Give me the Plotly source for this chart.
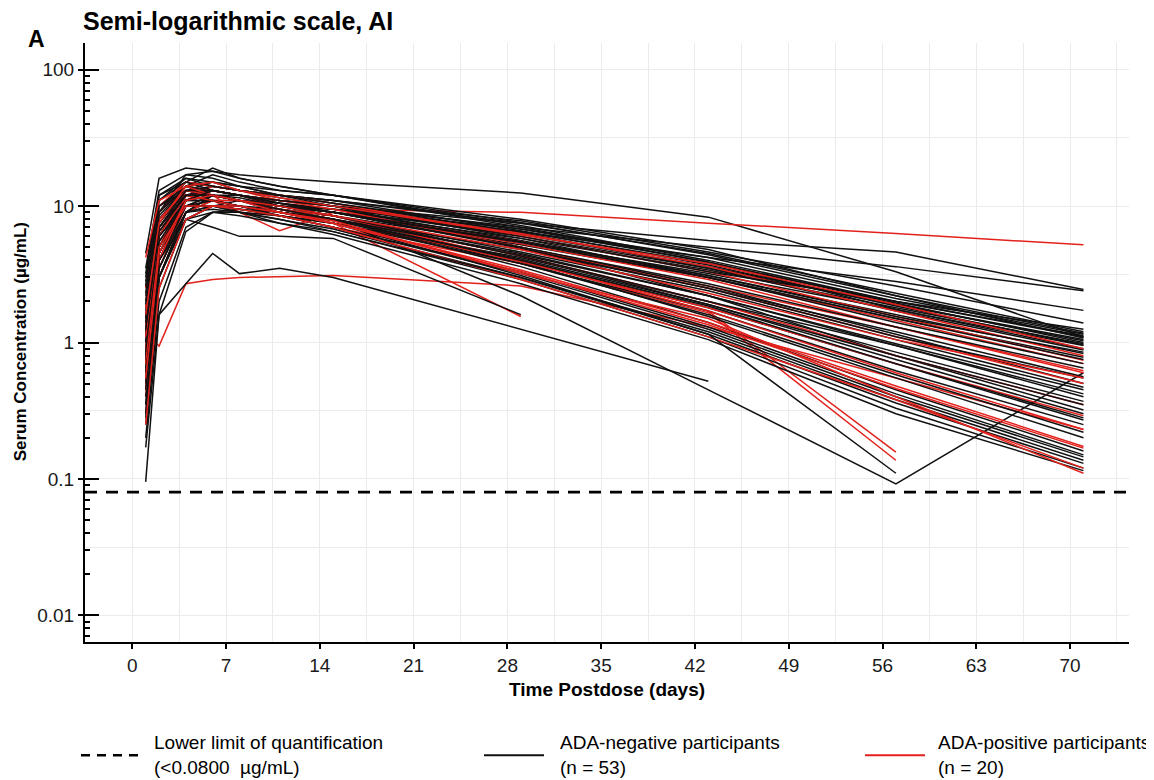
import plotly.graph_objects as go

# ---------------- data ----------------
time_days = [1, 2, 4, 6, 8, 11, 15, 29, 43, 57, 71]
lloq_value = 0.08

# ADA-negative participants (n = 53), serum concentration (ug/mL) at time_days
ada_negative = [
    [1.5, 9, 17, 18, 17, 16, 15, 12.5, 8.3, 3.3, 1.1],
    [2.5, 10, 14, 13, 12, 11, 10, 7.5, 5.6, 4.6, 2.45],
    [1.2, 6, 12, 13, 12, 11, 10, 7.0, 5.0, 3.6, 2.4],
    [0.9, 5, 11, 12, 11, 10, 9, 6.5, 4.2, 2.8, 1.72],
    [1.8, 7.5, 13, 14, 13, 12, 11, 7.8, 4.6, 2.6, 1.39],
    [0.5, 4.5, 12, 14, 13, 12, 11, 7.5, 4.5, 2.3, 1.2],
    [3.0, 12, 16, 15, 14, 13, 12, 8.0, 4.8, 2.2, 1.17],
    [0.7, 5.5, 10, 11, 11, 10, 9.5, 6.8, 4.2, 2.1, 1.15],
    [1.1, 8, 14, 17, 15, 13, 12, 7.2, 4.0, 2.0, 1.12],
    [0.35, 3, 9, 12, 12, 11, 10, 6.5, 3.8, 2.0, 1.1],
    [2.2, 9, 15, 19, 16, 14, 12, 7.6, 4.4, 2.2, 1.08],
    [0.6, 4, 11, 13, 12, 11, 10, 6.2, 3.6, 1.9, 1.05],
    [1.4, 6.5, 12, 12, 11, 10.5, 9.5, 6.0, 3.5, 1.9, 1.03],
    [4.5, 16, 19, 18, 16, 14, 12, 7.0, 3.9, 1.95, 1.0],
    [0.25, 2.5, 8, 10, 11, 10, 9, 5.8, 3.4, 1.8, 0.98],
    [1.0, 6, 13, 15, 14, 12, 11, 6.6, 3.7, 1.85, 0.96],
    [0.45, 4, 10, 12, 11, 10, 9, 5.5, 3.2, 1.75, 0.95],
    [2.8, 11, 15, 14, 13, 12, 10.5, 6.4, 3.5, 1.7, 0.88],
    [0.8, 5, 11, 13, 12, 10.5, 9.5, 5.6, 3.1, 1.6, 0.83],
    [1.6, 7, 12, 11, 10, 9.5, 8.5, 5.2, 3.0, 1.5, 0.78],
    [0.095, 1.6, 6.5, 9, 9.5, 9, 8, 2.2, 0.45, 0.092, 0.6],
    [0.3, 3.5, 9, 11, 10, 9, 8, 4.8, 2.5, 1.2, 0.56],
    [2.0, 9, 14, 13, 12, 10.5, 9, 5.0, 2.6, 1.15, 0.5],
    [0.55, 4, 10, 12, 11, 10, 8.5, 4.6, 2.4, 1.05, 0.47],
    [1.3, 6, 11, 11, 10, 9, 8, 4.4, 2.2, 0.95, 0.4],
    [0.4, 3, 8, 10, 9.5, 8.5, 7.5, 4.2, 2.0, 0.85, 0.37],
    [3.5, 13, 17, 16, 14, 12, 10, 5.0, 2.2, 0.8, 0.32],
    [0.7, 5, 11, 12, 11, 9.5, 8.5, 4.3, 1.9, 0.75, 0.3],
    [1.5, 7, 12, 12, 11, 9.5, 8, 4.0, 1.8, 0.7, 0.27],
    [0.2, 2, 7, 9, 9, 8.5, 7.5, 3.8, 1.7, 0.62, 0.25],
    [2.5, 10, 13, 12, 11, 9.5, 8, 3.8, 1.6, 0.58, 0.22],
    [0.9, 6, 12, 13, 12, 10, 8.5, 3.9, 1.55, 0.55, 0.2],
    [1.7, 8, 13, 12, 11, 9.5, 8, 3.6, 1.4, 0.45, 0.16],
    [0.35, 3, 9, 10, 9.5, 8.5, 7, 3.3, 1.3, 0.42, 0.15],
    [1.2, 6, 11, 11, 10, 8.5, 7, 3.2, 1.25, 0.4, 0.145],
    [0.6, 4.5, 10, 10, 9, 8, 6.8, 3.0, 1.2, 0.38, 0.137],
    [2.3, 10, 14, 12, 11, 9, 7.5, 3.1, 1.15, 0.36, 0.13],
    [0.5, 4, 9, 9.5, 9, 8, 6.5, 2.9, 1.1, 0.33, 0.12],
    [1.0, 6, 10, 10, 9, 7.5, 6.2, 2.7, 1.05, 0.3, 0.115],
    [1.9, 8.5, 14, 15, 13, 12, 10.5, 6.8, 3.9, 1.75, 0.9],
    [0.65, 4.5, 11, 12, 11.5, 10, 9, 5.5, 3.1, 1.55, 0.85],
    [2.6, 11, 16, 14, 13, 11.5, 10, 5.8, 3.0, 1.4, 0.7],
    [0.28, 3, 9, 12, 11, 10, 9, 5.0, 2.7, 1.3, 0.65],
    [1.1, 7, 13, 13, 12, 10.5, 9, 4.9, 2.5, 1.1, 0.55],
    [0.75, 5, 10, 11, 10, 9, 8, 4.5, 2.2, 0.98, 0.45],
    [3.2, 12, 15, 13, 12, 10, 8.5, 4.3, 2.0, 0.95, 0.42],
    [0.45, 3.5, 9, 10, 10, 9, 7.8, 4.1, 1.9, 0.8, 0.35],
    [1.4, 7, 12, 12, 11, 9.5, 8, 4.0, 1.85, 0.7, 0.28],
    [0.85, 5.5, 11, 13, 12, 11, 10, 6.0, 3.3, 2.0, 1.25],
    [1.25, 6.5, 12, 12, 11, 10, 9, 5.4, 3.0, 1.5, 0.75],
    [0.17, 1.6, 2.7, 4.5, 3.2, 3.5, 3.0, 1.25, 0.52, None, None],
    [0.6, 4, 8, 7, 6.0, 6.0, 5.8, 1.6, None, None, None],
    [0.3, 3, 8, 9, 8.5, 7.5, 6.5, 3.0, 1.15, 0.11, None],
]

# ADA-positive participants (n = 20)
ada_positive = [
    [1.0, 6, 12, 12, 11, 10, 9.5, 9.0, 7.5, 6.3, 5.2],
    [1.2, 0.94, 2.7, 2.9, 3.0, 3.05, 3.1, 2.6, 1.3, 0.55, 0.23],
    [0.5, 4, 12, 11, 9, 8.5, 7.5, 1.55, None, None, None],
    [0.8, 5, 13, 12, 9, 6.6, 9, 5.0, 2.6, 1.3, 0.62],
    [0.4, 3.5, 10, 11, 10, 9, 7.5, 4.0, 1.7, 0.157, None],
    [1.5, 7, 12, 11, 10, 8.5, 7, 3.8, 1.65, 0.137, None],
    [2.0, 9, 14, 13, 12, 11, 10, 6.3, 3.6, 1.7, 0.8],
    [0.6, 5, 11, 14, 13, 12, 10.5, 6.0, 3.3, 1.55, 0.74],
    [1.3, 7, 13, 12, 11, 10, 9, 5.5, 3.0, 1.45, 0.7],
    [0.3, 3, 9, 11, 11, 10, 9, 5.3, 2.9, 1.3, 0.6],
    [2.5, 10, 15, 14, 13, 11, 9.5, 5.0, 2.5, 1.1, 0.5],
    [0.9, 6, 12, 12, 11, 9.5, 8.5, 4.3, 2.0, 0.8, 0.35],
    [1.8, 8, 13, 12, 11, 9.5, 8, 3.9, 1.8, 0.7, 0.29],
    [0.45, 4, 11, 13, 12, 10, 8.5, 4.0, 1.7, 0.6, 0.23],
    [1.1, 6.5, 12, 11, 10, 9, 7.5, 3.4, 1.4, 0.48, 0.173],
    [4.2, 11, 14, 12, 11, 9, 7.5, 3.3, 1.35, 0.46, 0.168],
    [0.7, 5, 10, 10, 9.5, 8.5, 7, 2.9, 1.1, 0.38, 0.12],
    [0.25, 2.5, 8, 10, 10, 9, 7.8, 3.2, 1.5, 0.4, 0.11],
    [1.6, 7.5, 14, 15, 13, 11.5, 10, 6.2, 3.8, 1.9, 0.9],
    [0.55, 4.5, 11, 12, 11, 10, 8.5, 4.8, 2.3, 1.05, 0.55],
]

x_tick_vals = [0, 7, 14, 21, 28, 35, 42, 49, 56, 63, 70]
x_minor_grid = [3.5, 10.5, 17.5, 24.5, 31.5, 38.5, 45.5, 52.5, 59.5, 66.5, 73.5]
y_major_vals = [0.01, 0.1, 1, 10, 100]
y_major_text = ["0.01", "0.1", "1", "10", "100"]
y_half_grid = [0.0316228, 0.316228, 3.16228, 31.6228]
y_minor_ticks = [m * 10.0 ** k for k in range(-3, 3) for m in range(2, 10)]

legend_labels = [
    "Lower limit of quantification<br>(&lt;0.0800\u00a0\u00a0µg/mL)",
    "ADA-negative participants<br>(n = 53)",
    "ADA-positive participants<br>(n = 20)",
]

# ---------------- styling ----------------
BLACK = "#111111"
RED = "#E3211C"
GRID = "#EBEBEB"
FONT = "Liberation Sans, Arial, sans-serif"
X_RANGE = [-3.53, 74.4]
Y_RANGE_LOG = [-2.196, 2.196]

# page body has an 8 px margin; size the figure so it fits the 1154x780 window
OFF = 8
FIG_W, FIG_H = 1154 - OFF, 780 - OFF
PLOT_L, PLOT_R, PLOT_T, PLOT_B = 85, 1129, 42.7, 641.7   # target screen pixels
PW, PH = PLOT_R - PLOT_L, PLOT_B - PLOT_T


def px(xs):
    return (xs - PLOT_L) / PW


def py(ys):
    return (PLOT_B - ys) / PH


fig = go.Figure()

# interleave the two groups for drawing order
order = []
ni, pi = 0, 0
while ni < len(ada_negative) or pi < len(ada_positive):
    for _ in range(3):
        if ni < len(ada_negative):
            order.append(("neg", ni)); ni += 1
    if pi < len(ada_positive):
        order.append(("pos", pi)); pi += 1

for grp, idx in order:
    vals = ada_negative[idx] if grp == "neg" else ada_positive[idx]
    fig.add_trace(go.Scatter(
        x=time_days, y=vals, mode="lines",
        line=dict(color=BLACK if grp == "neg" else RED, width=1.5),
        showlegend=False, hoverinfo="skip",
    ))

# LLOQ line across the full x range
fig.add_trace(go.Scatter(
    x=X_RANGE, y=[lloq_value, lloq_value], mode="lines",
    line=dict(color="black", width=2.8, dash="12px,9px"),
    showlegend=False, hoverinfo="skip",
))

# dummy trace to activate overlay axis for inner ticks
fig.add_trace(go.Scatter(x=[None], y=[None], yaxis="y2", showlegend=False, hoverinfo="skip"))

fig.update_layout(
    width=FIG_W, height=FIG_H,
    margin=dict(l=PLOT_L - OFF, r=FIG_W - (PLOT_R - OFF), t=PLOT_T - OFF, b=FIG_H - (PLOT_B - OFF)),
    plot_bgcolor="white", paper_bgcolor="white",
    font=dict(family=FONT, color="black"),
    title=dict(text="<b>Semi-logarithmic scale, AI</b>", x=(83 - OFF) / FIG_W, xanchor="left",
               y=1 - (21 - OFF) / FIG_H, yanchor="middle", xref="container", yref="container",
               font=dict(size=25, family=FONT, color="black")),
    xaxis=dict(
        range=X_RANGE, tickvals=x_tick_vals, ticks="outside", ticklen=5, tickwidth=1.6,
        tickcolor="black", showline=True, linecolor="black", linewidth=2,
        showgrid=True, gridcolor=GRID, gridwidth=1.2, zeroline=False,
        tickfont=dict(size=19, color="#1a1a1a"),
        minor=dict(tickvals=x_minor_grid, showgrid=True, gridcolor=GRID, gridwidth=1.2, ticks=""),
    ),
    yaxis=dict(
        type="log", range=Y_RANGE_LOG, tickvals=y_major_vals, ticktext=y_major_text,
        ticks="outside", ticklen=5, tickwidth=2, tickcolor="black",
        showline=True, linecolor="black", linewidth=2,
        showgrid=True, gridcolor=GRID, gridwidth=1.2, zeroline=False,
        tickfont=dict(size=19, color="#1a1a1a"),
        minor=dict(tickvals=y_half_grid, showgrid=True, gridcolor=GRID, gridwidth=1.2, ticks=""),
    ),
    yaxis2=dict(
        type="log", range=Y_RANGE_LOG, overlaying="y", side="left", anchor="x",
        tickvals=y_major_vals, ticks="inside", ticklen=14, tickwidth=2, tickcolor="black",
        showticklabels=False, showgrid=False, showline=False, zeroline=False,
        minor=dict(tickvals=y_minor_ticks, ticks="inside", ticklen=5, tickwidth=1.6,
                   tickcolor="black", showgrid=False),
    ),
)

# axis titles
fig.add_annotation(text="<b>Time Postdose (days)</b>", xref="paper", yref="paper",
                   x=0.5, y=py(689), xanchor="center", yanchor="middle",
                   showarrow=False, font=dict(size=19, family=FONT, color="black"))
fig.add_annotation(text="<b>Serum Concentration (µg/mL)</b>", xref="paper", yref="paper",
                   x=px(20), y=py(342), textangle=-90, xanchor="center", yanchor="middle",
                   showarrow=False, font=dict(size=17, family=FONT, color="black"))
# panel letter
fig.add_annotation(text="<b>A</b>", xref="paper", yref="paper",
                   x=px(26), y=py(39), xanchor="left", yanchor="middle",
                   showarrow=False, font=dict(size=23, family=FONT, color="black"))

# manual legend (screen-pixel positions of sample lines and texts)
leg_y = py(755)
leg_items = [
    (81, 140, 152, dict(color="black", width=2.5, dash="9px,7px")),
    (484, 544, 558, dict(color=BLACK, width=2)),
    (865, 925, 936, dict(color=RED, width=2)),
]
for (x0, x1, xt, ln), label in zip(leg_items, legend_labels):
    fig.add_shape(type="line", xref="paper", yref="paper", x0=px(x0), x1=px(x1),
                  y0=leg_y, y1=leg_y, line=ln)
    fig.add_annotation(text=label, xref="paper", yref="paper", x=px(xt), y=leg_y,
                       xanchor="left", yanchor="middle", align="left", showarrow=False,
                       font=dict(size=19, family=FONT, color="black"))

fig.write_html("out.html")
